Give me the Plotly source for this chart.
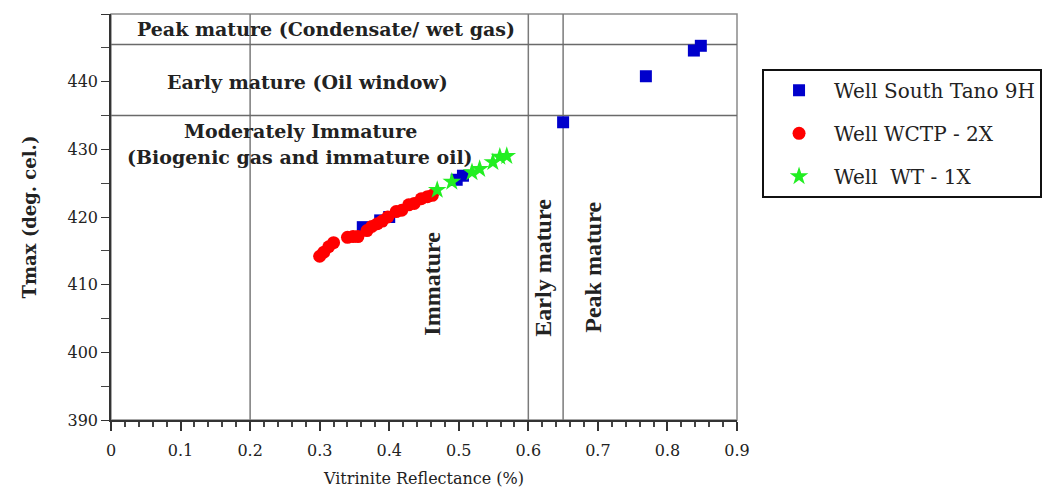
import plotly.graph_objects as go

# --- data ---
tano_x = [0.362, 0.387, 0.40, 0.497, 0.506, 0.65, 0.769, 0.838, 0.848]
tano_y = [418.5, 419.5, 420.0, 425.5, 426.1, 434.0, 440.8, 444.6, 445.3]

wctp_x = [0.300, 0.306, 0.313, 0.320, 0.340, 0.348, 0.355, 0.368, 0.375, 0.383,
          0.390, 0.398, 0.410, 0.418, 0.428, 0.436, 0.446, 0.455, 0.462]
wctp_y = [414.2, 414.8, 415.6, 416.2, 417.0, 417.1, 417.1, 418.0, 418.6, 419.0,
          419.4, 420.0, 420.8, 421.0, 421.8, 422.0, 422.7, 423.0, 423.2]

wt_x = [0.469, 0.490, 0.519, 0.530, 0.549, 0.559, 0.569]
wt_y = [424.0, 425.2, 426.6, 427.1, 428.1, 428.9, 429.0]

vr_bounds = [0.2, 0.6, 0.65]
tmax_bounds = [435, 445.5]

xticks = [0, 0.1, 0.2, 0.3, 0.4, 0.5, 0.6, 0.7, 0.8, 0.9]
xtick_text = ["0", "0.1", "0.2", "0.3", "0.4", "0.5", "0.6", "0.7", "0.8", "0.9"]
yticks = [390, 400, 410, 420, 430, 440, 450]

SERIF = "DejaVu Serif"
TIMES = "Liberation Serif"
INK = "#222222"

fig = go.Figure()
fig.add_trace(go.Scatter(x=tano_x, y=tano_y, mode="markers", name="Well South Tano 9H",
                         legendgroup="a",
                         marker=dict(symbol="square", size=12, color="#0000cc")))
fig.add_trace(go.Scatter(x=wctp_x, y=wctp_y, mode="markers", name="Well WCTP - 2X",
                         legendgroup="b",
                         marker=dict(symbol="circle", size=13, color="#ff0000")))
fig.add_trace(go.Scatter(x=wt_x, y=wt_y, mode="markers", name="Well  WT - 1X",
                         legendgroup="c",
                         marker=dict(symbol="star", size=14, color="#22ee22")))

# plot frame (light gray top/right)
fig.add_shape(type="rect", xref="paper", yref="paper", x0=0, x1=1, y0=0, y1=1,
              line=dict(color="#8a8a8a", width=1.5), layer="below")
for v in vr_bounds:
    fig.add_shape(type="line", xref="x", yref="paper", x0=v, x1=v, y0=0, y1=1,
                  line=dict(color="#7a7a7a", width=1.5), layer="below")
for t in tmax_bounds:
    fig.add_shape(type="line", xref="paper", yref="y", x0=0, x1=1, y0=t, y1=t,
                  line=dict(color="#6a6a6a", width=1.5), layer="below")

bold = dict(family=SERIF, size=19, color=INK)
fig.add_annotation(x=0.309, y=447.8, xref="x", yref="y", showarrow=False,
                   text="<b>Peak mature (Condensate/ wet gas)</b>", font=bold)
fig.add_annotation(x=0.283, y=440.0, xref="x", yref="y", showarrow=False,
                   text="<b>Early mature (Oil window)</b>", font=bold)
fig.add_annotation(x=0.273, y=432.7, xref="x", yref="y", showarrow=False,
                   text="<b>Moderately Immature</b>", font=bold)
fig.add_annotation(x=0.272, y=428.9, xref="x", yref="y", showarrow=False,
                   text="<b>(Biogenic gas and immature oil)</b>", font=bold)
vfont = dict(family=TIMES, size=24, color=INK)
fig.add_annotation(x=0.461, y=410.1, xref="x", yref="y", showarrow=False,
                   text="<b>Immature</b>", textangle=-90, font=vfont)
fig.add_annotation(x=0.621, y=412.5, xref="x", yref="y", showarrow=False,
                   text="<b>Early mature</b>", textangle=-90, font=vfont)
fig.add_annotation(x=0.693, y=412.5, xref="x", yref="y", showarrow=False,
                   text="<b>Peak mature</b>", textangle=-90, font=vfont)

fig.update_layout(
    width=1063, height=489,
    margin=dict(l=103, r=334, t=6, b=77),
    plot_bgcolor="white", paper_bgcolor="white",
    font=dict(family=SERIF, size=15, color=INK),
    showlegend=True,
    legend=dict(x=1.04, y=0.865, xanchor="left", yanchor="top",
                bordercolor="#111111", borderwidth=2,
                font=dict(family=SERIF, size=20, color=INK),
                tracegroupgap=14, itemwidth=60),
    xaxis=dict(range=[0, 0.9], tickvals=xticks, ticktext=xtick_text,
               showgrid=False, zeroline=False, showline=True, mirror=False,
               linecolor="#333333", linewidth=1.5,
               ticks="outside", ticklen=9, tickcolor="#333333", tickwidth=1.5,
               minor=dict(dtick=0.02, ticks="outside", ticklen=5, tickcolor="#444444"),
               tickfont=dict(family=SERIF, size=16), ticklabelstandoff=6,
               title=dict(text="Vitrinite Reflectance (%)", font=dict(family=SERIF, size=16),
                          standoff=14)),
    yaxis=dict(range=[390, 450], tickvals=yticks,
               showgrid=False, zeroline=False, showline=True, mirror=False,
               linecolor="#333333", linewidth=1.5,
               ticks="outside", ticklen=8, tickcolor="#333333",
               minor=dict(dtick=5, ticks="outside", ticklen=8, tickcolor="#444444"),
               tickfont=dict(family=SERIF, size=16),
               title=dict(text="<b>Tmax (deg. cel.)</b>", font=dict(family=SERIF, size=18),
                          standoff=26)),
)

fig.write_html("out.html")
